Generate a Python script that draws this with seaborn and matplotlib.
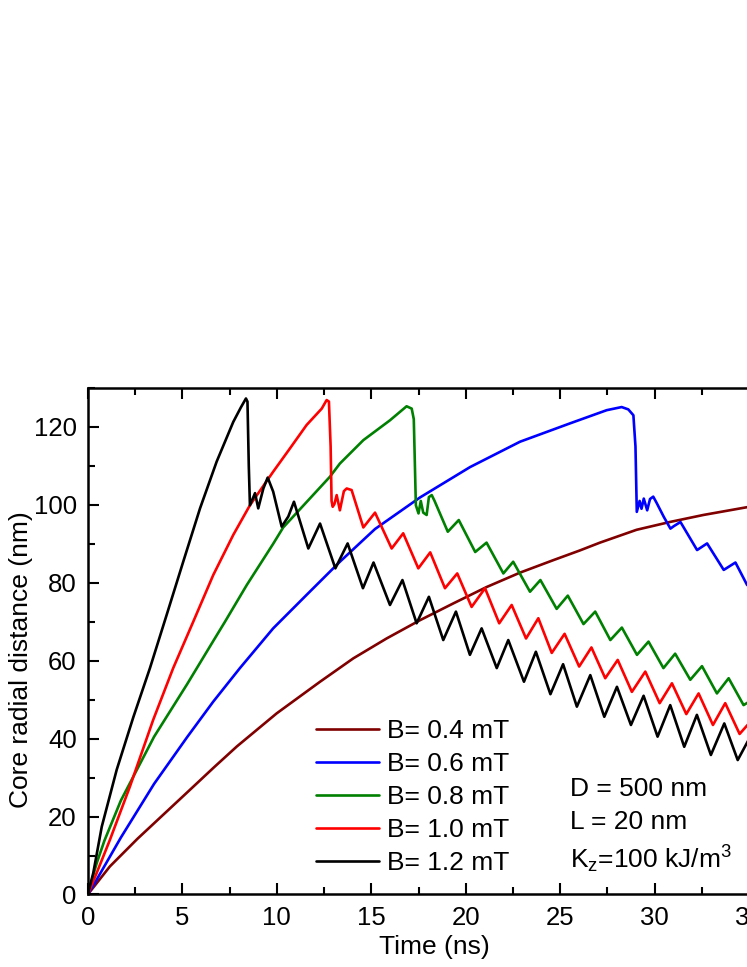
import numpy as np
import pandas as pd
import matplotlib
matplotlib.use("Agg")
import matplotlib.pyplot as plt
import seaborn as sns

# Datos: tiempo (ns) y distancia radial del nucleo (nm)
t_04 = [0, 1.17, 2.63, 5.26, 6.67, 7.89, 10.0, 12.29, 14.05, 15.81, 17.58, 19.34,
        21.1, 22.87, 24.63, 26.04, 27.1, 29.04, 30.8, 32.57, 35.0]
r_04 = [0, 7.2, 14.3, 26.2, 32.6, 38.0, 46.5, 54.6, 60.6, 65.7, 70.4, 74.7,
        78.9, 82.6, 85.8, 88.3, 90.3, 93.6, 95.6, 97.4, 99.5]

t_06 = [0, 0.47, 1.75, 3.51, 5.26, 6.64, 8.05, 9.81, 11.58, 13.34, 15.2, 17.58,
        20.23, 22.87, 25.51, 27.46, 28.25, 28.6, 28.87, 28.98, 29.05, 29.2, 29.3,
        29.42, 29.6, 29.75, 29.92, 30.1, 30.48, 30.83, 31.0, 31.36, 32.24, 32.77,
        33.65, 34.27, 34.89]
r_06 = [0, 3.8, 14.6, 28.4, 40.4, 49.5, 58.1, 68.3, 76.9, 85.4, 93.8, 101.9,
        109.7, 116.2, 120.9, 124.3, 125.1, 124.5, 123.0, 115.0, 98.2, 101.0, 99.0,
        101.6, 98.6, 101.5, 102.1, 100.5, 96.9, 93.9, 94.5, 95.6, 88.4, 90.1,
        83.3, 85.2, 79.4]

t_08 = [0, 0.47, 0.88, 1.75, 3.51, 5.26, 6.67, 7.26, 8.41, 9.81, 10.34, 12.81, 13.34,
        14.58, 15.99, 16.87, 17.14, 17.25, 17.31, 17.36, 17.5, 17.62, 17.75, 17.93,
        18.05, 18.2, 18.35, 19.05, 19.63, 20.5, 21.1, 21.99, 22.51, 23.4, 23.95,
        24.81, 25.4, 26.23, 26.85, 27.65, 28.26, 29.06, 29.67, 30.46, 31.08, 31.88,
        32.5, 33.29, 33.91, 34.7, 35.0]
r_08 = [0, 8.0, 13.8, 24.1, 40.5, 54.0, 65.3, 70.0, 79.4, 90.0, 94.2, 107.2, 110.6,
        116.6, 121.7, 125.3, 124.7, 122.0, 110.0, 99.9, 97.8, 101.0, 98.0, 97.4,
        102.0, 102.5, 101.0, 93.1, 96.1, 87.9, 90.3, 82.4, 85.4, 77.7, 80.7,
        73.3, 76.7, 69.4, 72.6, 65.3, 68.5, 61.5, 64.9, 58.1, 61.8, 55.1,
        58.6, 51.6, 55.5, 48.6, 49.5]

t_10 = [0, 0.47, 1.17, 2.23, 3.46, 4.52, 5.58, 6.64, 7.7, 8.58, 9.81, 10.7, 11.58,
        12.38, 12.64, 12.76, 12.85, 12.9, 12.96, 13.05, 13.17, 13.34, 13.55, 13.7,
        13.96, 14.58, 15.2, 16.08, 16.69, 17.49, 18.12, 18.9, 19.55, 20.31, 21.02,
        21.77, 22.43, 23.19, 23.84, 24.55, 25.23, 26.0, 26.65, 27.38, 28.04, 28.79,
        29.5, 30.26, 30.91, 31.67, 32.32, 33.08, 33.73, 34.49, 35.0]
r_10 = [0, 5.5, 14.0, 27.7, 44.8, 58.1, 70.0, 82.0, 92.3, 99.9, 108.5, 114.5, 120.5,
        124.7, 126.9, 126.5, 115.0, 101.0, 99.5, 100.2, 102.5, 98.6, 103.5, 104.2,
        103.8, 94.2, 98.0, 88.8, 92.7, 83.7, 87.8, 78.6, 82.4, 73.8, 78.6,
        69.6, 74.3, 65.7, 70.9, 62.0, 66.9, 58.5, 63.4, 55.5, 60.2, 52.0,
        57.2, 49.1, 54.2, 46.3, 51.6, 43.5, 49.1, 41.2, 44.0]

t_12 = [0, 0.29, 0.74, 1.53, 2.41, 3.29, 4.17, 5.05, 5.94, 6.82, 7.7, 8.1, 8.37,
        8.45, 8.52, 8.58, 8.85, 9.02, 9.29, 9.52, 9.81, 10.26, 10.61, 10.91, 11.67,
        12.29, 13.1, 13.75, 14.56, 15.12, 15.99, 16.65, 17.4, 18.05, 18.81, 19.48,
        20.22, 20.84, 21.64, 22.25, 23.08, 23.71, 24.48, 25.15, 25.88, 26.59, 27.33,
        28.0, 28.74, 29.41, 30.15, 30.82, 31.56, 32.23, 32.97, 33.68, 34.39, 35.0]
r_12 = [0, 5.5, 17.4, 32.0, 45.5, 58.1, 71.7, 85.4, 99.1, 111.1, 121.3, 125.0, 127.3,
        126.5, 110.0, 99.9, 103.0, 99.1, 104.2, 107.0, 103.4, 94.4, 97.0, 100.8, 88.8,
        95.2, 83.7, 90.1, 78.6, 85.2, 74.3, 80.7, 69.6, 76.4, 65.3, 72.6,
        61.5, 68.3, 58.1, 65.3, 54.6, 62.3, 51.4, 59.1, 48.2, 56.3, 45.6,
        53.3, 43.5, 51.0, 40.5, 48.6, 37.9, 46.1, 35.8, 43.9, 34.5, 40.0]

campos = ["B= 0.4 mT", "B= 0.6 mT", "B= 0.8 mT", "B= 1.0 mT", "B= 1.2 mT"]
colores = ["#800000", "#0000ff", "#008000", "#ff0000", "#000000"]
series = [(t_04, r_04), (t_06, r_06), (t_08, r_08), (t_10, r_10), (t_12, r_12)]

sns.set_theme(style="ticks")
plt.rcParams['font.family'] = ['Liberation Sans', 'DejaVu Sans']
plt.rcParams['mathtext.default'] = 'regular'
for clave in ['text.color', 'axes.labelcolor', 'xtick.color', 'ytick.color', 'axes.edgecolor']:
    plt.rcParams[clave] = 'black'

fig = plt.figure(figsize=(7.47, 9.67), dpi=100)
ax = fig.add_axes([0.1175, 0.075, 1.012, 0.5238])

for (t, r), nombre, color in zip(series, campos, colores):
    df = pd.DataFrame({"Time": t, "R": r})
    sns.lineplot(data=df, x="Time", y="R", ax=ax, color=color, lw=1.9,
                 label=nombre, sort=False, estimator=None,
                 solid_joinstyle='round')

ax.set_xlim(0, 40)
ax.set_ylim(0, 130)
ax.set_xticks(np.arange(0, 41, 5))
ax.set_xticks(np.arange(0, 41, 2.5), minor=True)
ax.set_yticks(np.arange(0, 121, 20))
ax.set_yticks(np.arange(0, 131, 10), minor=True)
ax.tick_params(which='both', direction='in', top=True, right=False, width=1.5,
               labelsize=18.5, pad=8)
ax.tick_params(which='major', length=8)
ax.tick_params(which='minor', length=5)
for lado in ['left', 'bottom', 'top']:
    ax.spines[lado].set_linewidth(1.8)
ax.spines['right'].set_visible(False)

ax.set_xlabel("Time (ns)", fontsize=19)
ax.set_ylabel("Core radial distance (nm)", fontsize=19)
ax.xaxis.set_label_coords(0.458, -0.080)
ax.yaxis.set_label_coords(-0.0725, 0.463)

ley = ax.legend(loc='upper left', bbox_to_anchor=(316 / 747, 1 - 719 / 967),
                bbox_transform=fig.transFigure, frameon=False, fontsize=19,
                handlelength=2.39, handletextpad=0.3, labelspacing=0.34,
                borderpad=0, borderaxespad=0)
for linea in ley.get_lines():
    linea.set_linewidth(1.9)

fig.text(570 / 747, 1 - 796 / 967, "D = 500 nm", fontsize=19, va='baseline')
fig.text(570 / 747, 1 - 829.3 / 967, "L = 20 nm", fontsize=19, va='baseline')
fig.text(570 / 747, 1 - 868.3 / 967, r"K$_{z}$=100 kJ/m$^{3}$", fontsize=19, va='baseline')

fig.savefig("out.png", dpi=100)
